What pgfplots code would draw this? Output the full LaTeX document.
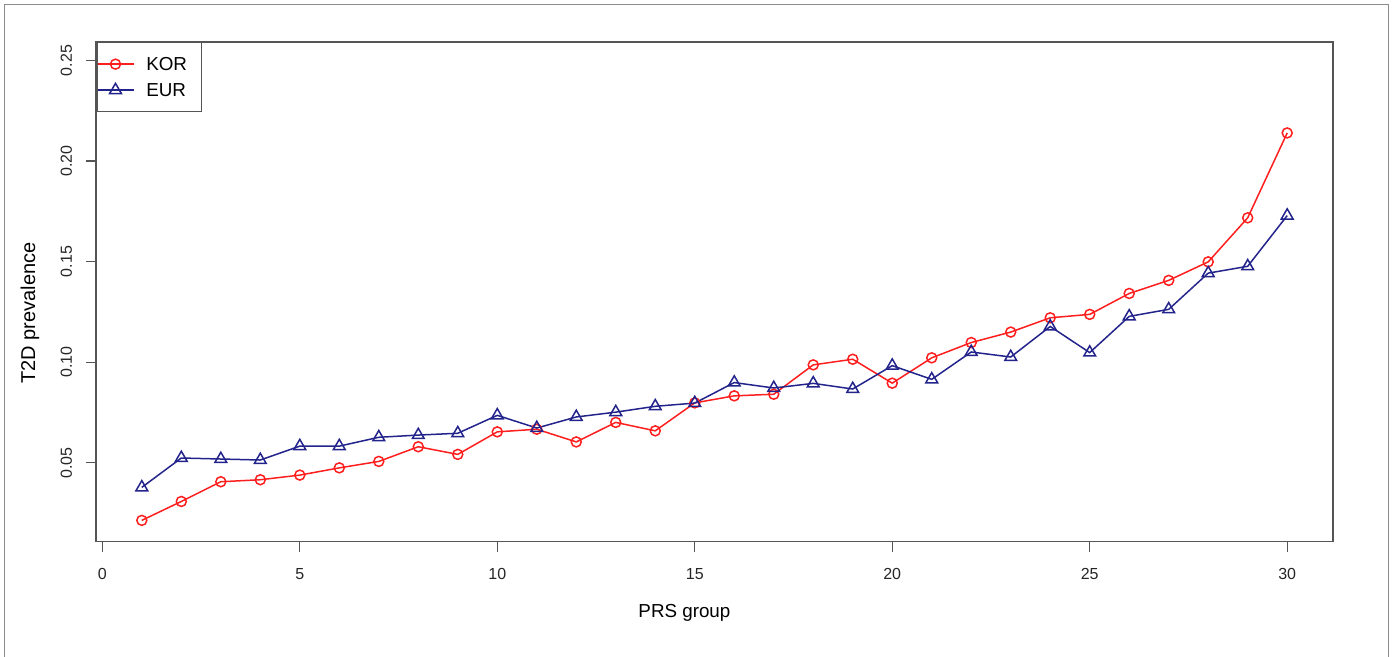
\documentclass[border=0pt]{standalone}
\usepackage{fontspec}
\setmainfont{Liberation Sans}
\usepackage{pgfplots}
\pgfplotsset{compat=1.18}
\definecolor{kor}{RGB}{255,30,30}
\definecolor{eur}{RGB}{35,35,140}
\definecolor{axgray}{RGB}{85,85,85}
\definecolor{framegray}{RGB}{140,140,140}

\pgfplotstableread{
x y
1 0.0214
2 0.0308
3 0.0406
4 0.0416
5 0.0439
6 0.0475
7 0.0507
8 0.0580
9 0.0542
10 0.0654
11 0.0667
12 0.0604
13 0.0701
14 0.0659
15 0.0798
16 0.0833
17 0.0841
18 0.0987
19 0.1015
20 0.0896
21 0.1022
22 0.1098
23 0.1150
24 0.1221
25 0.1238
26 0.1342
27 0.1407
28 0.1499
29 0.1718
30 0.2140
}\kortable

\pgfplotstableread{
x y
1 0.0378
2 0.0524
3 0.0519
4 0.0514
5 0.0583
6 0.0583
7 0.0627
8 0.0638
9 0.0647
10 0.0736
11 0.0673
12 0.0728
13 0.0752
14 0.0781
15 0.0797
16 0.0899
17 0.0872
18 0.0895
19 0.0867
20 0.0983
21 0.0915
22 0.1051
23 0.1026
24 0.1178
25 0.1048
26 0.1228
27 0.1263
28 0.1443
29 0.1477
30 0.1729
}\eurtable

\begin{document}
\begin{tikzpicture}
\begin{axis}[
  at={(48pt,57.65pt)}, anchor=south west,
  scale only axis, width=618.5pt, height=249.85pt,
  xmin=-0.16, xmax=31.16, ymin=0.0108, ymax=0.2592,
  xtick={0,5,10,15,20,25,30},
  xticklabels={0,5,10,15,20,25,30},
  ytick={0.05,0.1,0.15,0.2,0.25},
  yticklabels={0.05,0.10,0.15,0.20,0.25},
  tick align=outside, major tick length=5pt,
  tick style={axgray, line width=0.6pt},
  axis line style={axgray, line width=0.75pt},
  xtick pos=bottom, ytick pos=left,
  ticklabel style={font=\fontsize{8}{9.6}\selectfont, text=black!85},
  yticklabel style={rotate=90, anchor=south},
  xticklabel style={anchor=north},
  xticklabel shift=5pt, yticklabel shift=3.5pt,
  xlabel={PRS group}, ylabel={T2D prevalence},
  xlabel style={font=\fontsize{9.4}{11}\selectfont, at={(axis description cs:0.4757,-0.1427)}, anchor=center},
  ylabel style={font=\fontsize{10}{12}\selectfont, at={(axis description cs:-0.0534,0.4577)}, anchor=center, rotate=0},
  legend cell align=left,
  legend image code/.code={\draw[mark repeat=2,mark phase=2,#1] plot coordinates {(0pt,0pt) (9pt,0pt) (18pt,0pt)};},
  legend style={at={(axis description cs:0,1)}, anchor=north west, draw=axgray, line width=0.75pt, fill=white,
    font=\fontsize{9.4}{11}\selectfont, inner xsep=0pt, inner ysep=4.2pt, row sep=0pt, column sep=4pt,
    nodes={inner xsep=2pt, inner ysep=3.2pt, text height=6.6pt, text depth=0pt}},
]
\addplot[kor, line width=0.75pt, mark=o, mark size=2.5pt, mark options={solid}] table[x=x,y=y] {\kortable};
\addlegendentry{\makebox[25.5pt][l]{KOR}}
\addplot[eur, line width=0.75pt, mark=triangle, mark size=3.4pt, mark options={solid}] table[x=x,y=y] {\eurtable};
\addlegendentry{\makebox[25.5pt][l]{EUR}}
\end{axis}
\draw[framegray, line width=0.75pt] (2.25pt,-2pt) -- (2.25pt,326.25pt) -- (694.25pt,326.25pt) -- (694.25pt,-2pt);
\pgfresetboundingbox
\path[use as bounding box] (0,0) rectangle (698pt,328.5pt);
\end{tikzpicture}
\end{document}
